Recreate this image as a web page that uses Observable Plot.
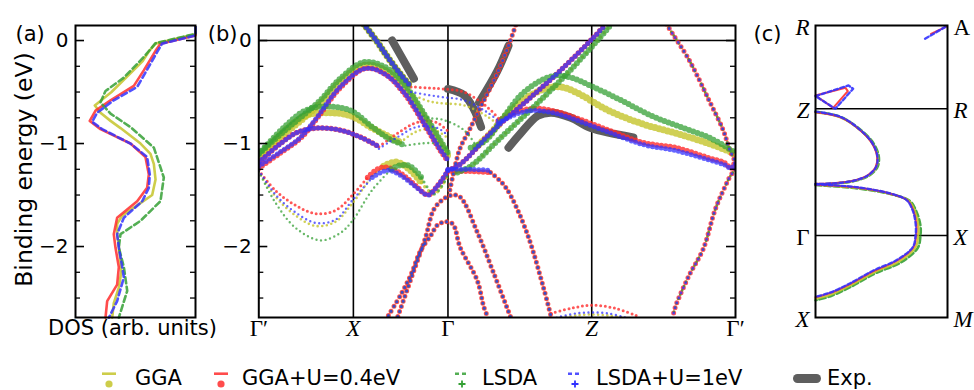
<!DOCTYPE html>
<html><head><meta charset="utf-8">
<script src="https://cdn.jsdelivr.net/npm/d3@7"></script>
<script src="https://cdn.jsdelivr.net/npm/@observablehq/plot@0.6"></script>
<style>
body{margin:0;background:#fff;}
#root{position:relative;width:974px;height:390px;font-family:"DejaVu Sans",sans-serif;background:#fff;overflow:hidden;}
.lt{position:absolute;top:366px;height:24px;line-height:24px;font-size:21px;color:#000;white-space:nowrap;}
.sw{position:absolute;top:366px;}
</style></head><body><div id="root"></div>
<script>
// ---------------- data ----------------
const models = ["GGA", "GGA+U=0.4eV", "LSDA", "LSDA+U=1eV"];
const modelColors = ["#c4c42a", "#ff2d2d", "#35a035", "#3232ff"];
const expLabel = "Exp.";

// (a) DOS
const dosE_gga  = [0.13,0.06,-0.03,-0.10,-0.20,-0.35,-0.50,-0.63,-0.70,-0.78,-0.85,-1.0,-1.10,-1.20,-1.35,-1.50,-1.60,-1.70,-1.78,-1.88,-2.0,-2.15,-2.25,-2.40,-2.55,-2.69];
const dos_gga   = [1.0,1.0,0.667,0.615,0.56,0.43,0.30,0.161,0.208,0.292,0.375,0.542,0.625,0.653,0.667,0.639,0.514,0.389,0.347,0.347,0.361,0.375,0.381,0.361,0.319,0.306];
const dosE_ggau = [0.13,0.05,-0.03,-0.10,-0.29,-0.44,-0.58,-0.68,-0.78,-0.86,-1.0,-1.13,-1.30,-1.43,-1.56,-1.72,-1.88,-2.01,-2.20,-2.37,-2.53,-2.69];
const dos_ggau  = [1.0,1.0,0.708,0.667,0.569,0.486,0.292,0.167,0.119,0.208,0.458,0.583,0.611,0.597,0.514,0.347,0.319,0.333,0.361,0.347,0.264,0.25];
const dosE_lsda = [0.13,0.065,-0.026,-0.16,-0.36,-0.49,-0.60,-0.71,-0.84,-1.04,-1.33,-1.56,-1.75,-1.88,-2.01,-2.20,-2.43,-2.69];
const dos_lsda  = [1.0,1.0,0.667,0.569,0.403,0.25,0.208,0.292,0.458,0.653,0.736,0.708,0.542,0.375,0.361,0.403,0.431,0.361];
const dosE_lsdau= [0.13,0.05,-0.03,-0.11,-0.31,-0.45,-0.58,-0.70,-0.79,-0.86,-1.0,-1.13,-1.30,-1.43,-1.56,-1.72,-1.88,-2.01,-2.20,-2.30,-2.53,-2.69];
const dos_lsdau = [1.0,1.0,0.722,0.681,0.583,0.514,0.319,0.181,0.139,0.222,0.458,0.597,0.619,0.611,0.556,0.403,0.347,0.361,0.389,0.403,0.347,0.278];

const yTicksMajor = [-2, -1, 0];
const yTickLabels = ["\u22122", "\u22121", "0"];
const yTicksMinor = [-2.5, -2.25, -1.75, -1.5, -1.25, -0.75, -0.5, -0.25];

// (b) band structure, k path positions
const kTicks = [0, 1, 2, 3.52, 5.04];
const kLabels = ["\u0393\u2032", "X", "\u0393", "Z", "\u0393\u2032"];

// bands shared by all four calculations (w = projected weight class per model)
const bandS1 = {k:[1.11,1.25,1.37,1.50,1.61], e:[0.16,-0.01,-0.17,-0.33,-0.45], w:[3,3,3,3]};
const bandD  = {k:[1.37,1.50,1.61,1.71,1.82,1.89,1.97,2.05,2.13,2.31,2.38,2.42], e:[-2.67,-2.47,-2.27,-2.04,-1.89,-1.79,-1.76,-1.78,-2.01,-2.33,-2.59,-2.68], w:[2,2,2,2]};
const bandK  = {k:[1.47,1.61,1.76,1.85,1.95,2.05,2.13,2.31,2.48,2.66], e:[-2.68,-2.31,-1.92,-1.64,-1.54,-1.50,-1.52,-1.86,-2.25,-2.68], w:[2,2,2,2]};
const bandE  = {k:[2.02,2.08,2.13,2.22,2.31,2.42,2.52,2.61,2.66,2.72], e:[-1.45,-1.20,-1.04,-0.88,-0.71,-0.51,-0.32,-0.12,0.0,0.16], w:[2,2,2,2]};
const bandC3 = {k:[2.45,2.57,2.66,2.84,3.01,3.09], e:[-1.28,-1.38,-1.50,-1.88,-2.40,-2.68], w:[2,2,2,2]};
const bandH  = {k:[4.31,4.33,4.55,4.76,4.91,4.97,5.04,4.97,4.83,4.70,4.55,4.41,4.38], e:[0.16,0.13,-0.19,-0.58,-0.87,-1.04,-1.22,-1.34,-1.63,-2.02,-2.28,-2.57,-2.67], w:[1,2,1,2]};

const bandsGGA = [
  {w:3, k:[0,0.28,0.49,0.65,0.86,1.11,1.34,1.55,1.76,1.92,2.0], e:[-1.13,-0.90,-0.74,-0.61,-0.40,-0.24,-0.29,-0.47,-0.76,-1.0,-1.12]},
  {w:3, k:[0,0.28,0.49,0.71,0.97,1.20,1.37,1.50], e:[-1.13,-0.87,-0.73,-0.70,-0.73,-0.85,-0.93,-0.99]},
  {w:1, k:[1.50,1.63,1.76,1.89,2.0], e:[-0.99,-0.90,-0.86,-0.88,-0.95]},
  {w:1, k:[1.61,1.80,1.95,2.17,2.42,2.56], e:[-0.52,-0.59,-0.61,-0.63,-0.74,-0.84]},
  {w:1, k:[0,0.18,0.39,0.60,0.81,0.99,1.20,1.32], e:[-1.27,-1.52,-1.70,-1.80,-1.76,-1.58,-1.32,-1.22]},
  {w:3, k:[1.32,1.45,1.58,1.72], e:[-1.22,-1.18,-1.24,-1.38]},
  {w:2, k:[1.72,1.85,1.93,2.0], e:[-1.38,-1.49,-1.42,-1.30]},
  {w:2, k:[2.08,2.24,2.55,2.90,3.25,3.58,3.72], e:[-1.28,-1.22,-0.95,-0.65,-0.33,0.0,0.15]},
  {w:3, k:[2.29,2.45,2.64,2.84,3.05,3.19,3.35,3.70,4.06,4.41,4.76,5.04], e:[-1.04,-0.90,-0.70,-0.55,-0.46,-0.45,-0.50,-0.68,-0.81,-0.90,-1.0,-1.10]},
  {w:1, k:[3.20,3.35,3.52,3.70,3.85], e:[-2.69,-2.67,-2.66,-2.67,-2.69]}
];
const bandsGGAU = [
  {w:3, k:[0,0.23,0.44,0.62,0.86,1.13,1.34,1.55,1.76,1.92,2.0], e:[-1.24,-1.09,-0.95,-0.75,-0.46,-0.27,-0.33,-0.53,-0.83,-1.07,-1.17]},
  {w:3, k:[0,0.23,0.41,0.62,0.86,1.08,1.27], e:[-1.19,-1.0,-0.89,-0.85,-0.87,-0.94,-1.03]},
  {w:1, k:[1.27,1.39,1.50,1.63,1.76,1.89,2.0], e:[-1.03,-0.95,-0.88,-0.81,-0.78,-0.80,-0.88]},
  {w:1, k:[1.61,1.80,1.95,2.17,2.42,2.56], e:[-0.45,-0.46,-0.47,-0.50,-0.65,-0.78]},
  {w:1, k:[0,0.18,0.39,0.60,0.81,0.99,1.15], e:[-1.26,-1.46,-1.60,-1.68,-1.65,-1.50,-1.33]},
  {w:3, k:[1.15,1.25,1.34,1.50,1.66,1.79,1.89,2.0], e:[-1.33,-1.25,-1.23,-1.29,-1.41,-1.50,-1.41,-1.27]},
  {w:3, k:[2.0,2.24,2.45], e:[-1.27,-1.27,-1.28]},
  {w:3, k:[2.0,2.13,2.48,2.84,3.19,3.54,3.66], e:[-1.26,-1.20,-0.87,-0.58,-0.29,0.03,0.15]},
  {w:3, k:[2.53,2.77,2.95,3.19,3.35,3.70,4.06,4.41,4.76,4.93,4.99,5.04], e:[-0.78,-0.68,-0.66,-0.70,-0.75,-0.87,-0.99,-1.04,-1.14,-1.19,-1.24,-1.17]},
  {w:1, k:[3.09,3.30,3.52,3.77,3.99], e:[-2.65,-2.60,-2.57,-2.60,-2.67]}
];
const bandsLSDA = [
  {w:3, k:[0,0.28,0.49,0.65,0.86,1.11,1.34,1.55,1.76,1.92,2.0], e:[-1.10,-0.87,-0.71,-0.58,-0.37,-0.21,-0.26,-0.44,-0.73,-0.97,-1.09]},
  {w:3, k:[0,0.28,0.49,0.71,0.97,1.20,1.37,1.55], e:[-1.10,-0.83,-0.68,-0.64,-0.68,-0.84,-0.95,-1.02]},
  {w:1, k:[1.55,1.71,1.87,2.0], e:[-1.02,-1.0,-1.0,-1.06]},
  {w:1, k:[1.61,1.76,1.95,2.17,2.31], e:[-0.60,-0.74,-0.77,-0.87,-1.04]},
  {w:1, k:[0,0.18,0.39,0.65,0.86,0.99,1.20,1.40], e:[-1.27,-1.58,-1.82,-1.94,-1.87,-1.75,-1.45,-1.25]},
  {w:3, k:[1.40,1.50,1.60,1.72], e:[-1.25,-1.21,-1.22,-1.33]},
  {w:2, k:[1.72,1.85,1.93,2.0], e:[-1.33,-1.49,-1.42,-1.30]},
  {w:3, k:[2.10,2.24,2.55,2.90,3.25,3.58,3.72], e:[-1.28,-1.22,-0.95,-0.65,-0.33,0.0,0.15]},
  {w:3, k:[2.24,2.40,2.56,2.77,2.98,3.14,3.30,3.51,3.83,4.15,4.46,4.78,5.04], e:[-1.04,-0.97,-0.78,-0.53,-0.39,-0.34,-0.36,-0.44,-0.58,-0.73,-0.84,-0.95,-1.09]}
];
const bandsLSDAU = [
  {w:3, k:[0,0.23,0.44,0.62,0.86,1.13,1.34,1.55,1.76,1.92,2.0], e:[-1.22,-1.08,-0.94,-0.74,-0.45,-0.27,-0.33,-0.52,-0.82,-1.06,-1.16]},
  {w:3, k:[0,0.23,0.41,0.62,0.86,1.08,1.27], e:[-1.18,-1.0,-0.89,-0.85,-0.87,-0.94,-1.03]},
  {w:1, k:[1.27,1.39,1.50,1.63,1.76,1.89,2.0], e:[-1.05,-0.98,-0.92,-0.85,-0.83,-0.85,-0.92]},
  {w:1, k:[1.61,1.80,1.95,2.17,2.42,2.56], e:[-0.50,-0.53,-0.55,-0.58,-0.70,-0.80]},
  {w:1, k:[0,0.18,0.39,0.60,0.81,0.99,1.20], e:[-1.26,-1.50,-1.67,-1.77,-1.74,-1.55,-1.33]},
  {w:3, k:[1.20,1.36,1.50,1.66,1.79,1.89,2.0], e:[-1.33,-1.26,-1.31,-1.42,-1.50,-1.41,-1.26]},
  {w:3, k:[2.0,2.24,2.45], e:[-1.25,-1.25,-1.26]},
  {w:3, k:[2.0,2.13,2.48,2.84,3.19,3.54,3.66], e:[-1.26,-1.20,-0.87,-0.58,-0.29,0.03,0.15]},
  {w:3, k:[2.53,2.77,2.95,3.19,3.35,3.70,4.06,4.41,4.76,4.93,4.99,5.04], e:[-0.80,-0.70,-0.68,-0.72,-0.77,-0.89,-1.01,-1.07,-1.16,-1.21,-1.24,-1.19]},
  {w:1, k:[3.15,3.35,3.52,3.70,3.88], e:[-2.69,-2.65,-2.64,-2.65,-2.69]}
];

// experiment (ARPES) traces
const exp1 = {k:[1.41,1.64], e:[0.0,-0.37]};
const exp2 = {k:[2.0,2.17,2.27,2.35], e:[-0.47,-0.53,-0.66,-0.84]};
const exp3 = {k:[2.33,2.52,2.64], e:[-0.60,-0.30,-0.05]};
const exp4 = {k:[2.64,2.76,2.95,3.09,3.30,3.51,3.96], e:[-1.04,-0.91,-0.73,-0.70,-0.75,-0.85,-0.94]};

// (c) Fermi surface cut, [kx, ky]; ky: Gamma-X line = 0, Z-R line = 1.545
const fsLines = [0, 1.545];
const fsLeftLabels = ["R", "Z", "\u0393", "X"];
const fsRightLabels = ["A", "R", "X", "M"];
const fsLabelY = [2.561, 1.545, 0, -1];
const fsGGA = [
  [[0,1.5],[0.189,1.44],[0.343,1.278],[0.434,1.116],[0.472,0.955],[0.46,0.83],[0.396,0.728],[0.29,0.666],[0.139,0.634],[0,0.626]],
  [[0,0.62],[0.136,0.605],[0.316,0.58],[0.574,0.505],[0.705,0.425],[0.753,0.295],[0.78,0.12],[0.778,0.0],[0.758,-0.147],[0.632,-0.318],[0.447,-0.447],[0.27,-0.603],[0.114,-0.723],[0,-0.77]]
];
const fsGGAU = [
  [[0,1.504],[0.189,1.443],[0.341,1.28],[0.43,1.118],[0.467,0.955],[0.455,0.833],[0.392,0.732],[0.29,0.671],[0.139,0.638],[0,0.63]],
  [[0,0.62],[0.136,0.61],[0.316,0.585],[0.568,0.51],[0.695,0.43],[0.742,0.30],[0.765,0.12],[0.762,0.0],[0.742,-0.143],[0.619,-0.305],[0.439,-0.435],[0.265,-0.589],[0.114,-0.70],[0,-0.752]]
];
const fsGGAUpocket = [[0,1.707],[0.227,1.801],[0.245,1.76],[0.134,1.557],[0,1.707]];
const fsGGAUcorner = [[0.875,2.46],[0.995,2.55]];
const fsLSDA = [
  [[0,1.51],[0.189,1.447],[0.348,1.28],[0.442,1.118],[0.48,0.955],[0.468,0.83],[0.4,0.725],[0.29,0.664],[0.139,0.632],[0,0.624]],
  [[0,0.615],[0.136,0.60],[0.316,0.575],[0.58,0.50],[0.715,0.42],[0.765,0.29],[0.795,0.12],[0.795,0.0],[0.775,-0.15],[0.645,-0.33],[0.455,-0.46],[0.275,-0.62],[0.114,-0.74],[0,-0.79]]
];
const fsLSDAU = [
  [[0,1.51],[0.189,1.447],[0.343,1.282],[0.434,1.118],[0.47,0.955],[0.458,0.833],[0.394,0.73],[0.29,0.668],[0.139,0.636],[0,0.628]],
  [[0,0.625],[0.136,0.612],[0.316,0.588],[0.565,0.513],[0.69,0.432],[0.738,0.30],[0.76,0.12],[0.758,0.0],[0.738,-0.14],[0.615,-0.30],[0.435,-0.43],[0.26,-0.585],[0.11,-0.697],[0,-0.748]]
];
const fsLSDAUpocket = [[0,1.70],[0.25,1.83],[0.285,1.79],[0.15,1.545],[0,1.70]];
const fsLSDAUcorner = [[0.83,2.40],[0.99,2.55]];

// ---------------- drawing ----------------
const root = document.getElementById("root");
const E_DOMAIN = [-2.689, 0.146];
const H = 345, MT = 25, MB = 28;
const SERIF = "'Liberation Serif', 'DejaVu Serif', serif";
const pts = (b) => b.k.map((k, i) => ({k, e: b.e[i]}));
const place = (svg, left) => { svg.style.position = "absolute"; svg.style.left = left + "px"; svg.style.top = "0px"; root.appendChild(svg); };
const baseStyle = {background: "transparent", fontFamily: "'DejaVu Sans', sans-serif", fontSize: "19px", overflow: "visible", color: "#000"};

function yTickMarks(fw) {
  return [
    Plot.tickY(yTicksMajor, {insetRight: fw - 9, strokeWidth: 1.6}),
    Plot.tickY(yTicksMajor, {insetLeft: fw - 9, strokeWidth: 1.6}),
    Plot.tickY(yTicksMinor, {insetRight: fw - 5, strokeWidth: 1.3}),
    Plot.tickY(yTicksMinor, {insetLeft: fw - 5, strokeWidth: 1.3}),
    Plot.text(yTicksMajor, {y: d => d, text: (d, i) => yTickLabels[i], frameAnchor: "left", textAnchor: "end", dx: -7, fontSize: 20})
  ];
}

// ---- panel (a)
{
  const W = 200, ML = 75, MR = 5, fw = W - ML - MR;
  const series = [
    {d: dos_gga, e: dosE_gga, c: modelColors[0], dash: null},
    {d: dos_ggau, e: dosE_ggau, c: modelColors[1], dash: null},
    {d: dos_lsda, e: dosE_lsda, c: modelColors[2], dash: "6,3.5"},
    {d: dos_lsdau, e: dosE_lsdau, c: modelColors[3], dash: "6,3.5"}
  ];
  const marks = series.map(s => Plot.line(s.d.map((v, i) => ({v, e: s.e[i]})), {
    x: "v", y: "e", stroke: s.c, strokeWidth: 2.6, strokeOpacity: 0.85, strokeDasharray: s.dash, curve: "linear"
  }));
  const svg = Plot.plot({
    width: W, height: H, marginLeft: ML, marginRight: MR, marginTop: MT, marginBottom: MB,
    x: {domain: [0, 1.0], axis: null}, y: {domain: E_DOMAIN, axis: null},
    style: baseStyle,
    marks: [
      ...marks,
      Plot.frame({strokeWidth: 2}),
      ...yTickMarks(fw),
      Plot.text(["Binding energy (eV)"], {frameAnchor: "left", textAnchor: "middle", lineAnchor: "middle", rotate: -90, dx: -51, dy: -2, fontSize: 23.5, text: d => d}),
      Plot.text(["DOS (arb. units)"], {frameAnchor: "bottom", dx: -3, dy: 17, fontSize: 21, text: d => d}),
      Plot.text(["(a)"], {frameAnchor: "top-left", textAnchor: "start", dx: -60, dy: 1, fontSize: 21, text: d => d})
    ]
  });
  place(svg, 0);
}

// ---- panel (b)
{
  const W = 560, ML = 58.3, MR = 25, fw = W - ML - MR;
  const bandSets = [bandsGGA, bandsGGAU, bandsLSDA, bandsLSDAU];
  const shared = [bandS1, bandD, bandK, bandE, bandC3, bandH];
  const dotSize = [[2.6, 3.6, 7], [3.0, 5.0, 5.5], [2.4, 3.0, 6], [2.4, 3.0, 5]];
  const dotGap = [4.6, 5.4, 4.4];
  const opac = [0.8, 0.8, 0.75, 0.75];
  const bandMarks = [];
  bandSets.forEach((set, mi) => {
    const all = set.concat(shared.map(s => ({k: s.k, e: s.e, w: s.w[mi]})));
    all.forEach(b => {
      bandMarks.push(Plot.line(pts(b), {
        x: "k", y: "e", stroke: modelColors[mi], strokeOpacity: opac[mi],
        strokeWidth: dotSize[mi][b.w - 1], strokeDasharray: `0 ${dotGap[b.w - 1]}`,
        strokeLinecap: "round", curve: "catmull-rom", clip: true
      }));
    });
  });
  const expMarks = [exp1, exp2, exp3, exp4].map(s => Plot.line(pts(s), {
    x: "k", y: "e", stroke: "#5e5e5e", strokeWidth: 8, strokeLinecap: "round", strokeLinejoin: "round", curve: "catmull-rom"
  }));
  const kl = kTicks.map((k, i) => ({k, label: kLabels[i], it: kLabels[i] === "X" || kLabels[i] === "Z"}));
  const svg = Plot.plot({
    width: W, height: H, marginLeft: ML, marginRight: MR, marginTop: MT, marginBottom: MB,
    x: {domain: [0, 5.04], axis: null}, y: {domain: E_DOMAIN, axis: null},
    style: baseStyle,
    marks: [
      Plot.ruleX(kTicks.slice(1, 4), {strokeWidth: 1.6}),
      Plot.ruleY([0], {strokeWidth: 1.6}),
      ...expMarks,
      ...bandMarks,
      Plot.frame({strokeWidth: 2}),
      ...yTickMarks(fw),
      Plot.text(kl.filter(d => !d.it), {x: "k", text: "label", frameAnchor: "bottom", dy: 18, fontSize: 23, fontFamily: SERIF}),
      Plot.text(kl.filter(d => d.it), {x: "k", text: "label", frameAnchor: "bottom", dy: 18, fontSize: 23, fontFamily: SERIF, fontStyle: "italic"}),
      Plot.text(["(b)"], {frameAnchor: "top-left", textAnchor: "start", dx: -51, dy: 1, fontSize: 21, text: d => d})
    ]
  });
  place(svg, 200);
}

// ---- panel (c)
{
  const W = 214, ML = 55, MR = 27;
  const mk = (arr) => arr.map(([x, y]) => ({x, y}));
  const styles = [
    {c: modelColors[2], dash: "6,3", w: 2.6, sets: fsLSDA},
    {c: modelColors[0], dash: null, w: 2.2, sets: fsGGA},
    {c: modelColors[1], dash: null, w: 2.0, sets: fsGGAU.concat([fsGGAUcorner])},
    {c: modelColors[3], dash: "4,2.5", w: 2.4, sets: fsLSDAU.concat([fsLSDAUcorner])}
  ];
  const lines = [];
  styles.forEach(s => s.sets.forEach(a => lines.push(Plot.line(mk(a), {x: "x", y: "y", stroke: s.c, strokeWidth: s.w, strokeDasharray: s.dash, strokeOpacity: 0.9, curve: "catmull-rom"}))));
  lines.push(Plot.line(mk(fsGGAUpocket), {x: "x", y: "y", stroke: modelColors[1], strokeWidth: 2, strokeOpacity: 0.9}));
  lines.push(Plot.line(mk(fsLSDAUpocket), {x: "x", y: "y", stroke: modelColors[3], strokeWidth: 2.4, strokeDasharray: "4,2.5", strokeOpacity: 0.9}));
  const lab = [];
  fsLabelY.forEach((y, i) => {
    lab.push({x: 0, y, t: fsLeftLabels[i], side: "l", it: fsLeftLabels[i] !== "\u0393"});
    lab.push({x: 1, y, t: fsRightLabels[i], side: "r", it: fsRightLabels[i] !== "A"});
  });
  const tm = (side, it) => Plot.text(lab.filter(d => d.side === side && d.it === it), {
    x: "x", y: "y", text: "t", textAnchor: side === "l" ? "end" : "start", dx: side === "l" ? -6 : 6, dy: 2,
    fontSize: 23, fontFamily: SERIF, fontStyle: it ? "italic" : "normal"
  });
  const svg = Plot.plot({
    width: W, height: H, marginLeft: ML, marginRight: MR, marginTop: MT, marginBottom: MB,
    x: {domain: [0, 1], axis: null}, y: {domain: [-1, 2.561], axis: null},
    style: baseStyle,
    marks: [
      Plot.ruleY(fsLines, {strokeWidth: 1.6}),
      ...lines,
      Plot.frame({strokeWidth: 2}),
      tm("l", true), tm("l", false), tm("r", true), tm("r", false),
      Plot.text(["(c)"], {frameAnchor: "top-left", textAnchor: "start", dx: -62, dy: 1, fontSize: 21, text: d => d})
    ]
  });
  place(svg, 760);
}

// ---- legend
{
  const items = [
    {label: models[0], c: modelColors[0], sx: 109, tx: 135, kind: "circle", dash: null},
    {label: models[1], c: modelColors[1], sx: 221, tx: 242, kind: "circle", dash: null},
    {label: models[2], c: modelColors[2], sx: 462, tx: 482, kind: "plus", dash: "4,3"},
    {label: models[3], c: modelColors[3], sx: 575, tx: 596, kind: "plus", dash: "4,3"},
    {label: expLabel, c: "#5e5e5e", sx: 807, tx: 827, kind: "exp"}
  ];
  const ns = "http://www.w3.org/2000/svg";
  items.forEach(it => {
    const s = document.createElementNS(ns, "svg");
    s.setAttribute("class", "sw");
    s.setAttribute("width", 34); s.setAttribute("height", 24);
    s.style.left = (it.sx - 17) + "px";
    let html = "";
    if (it.kind === "exp") {
      html = `<rect x="3" y="8" width="28" height="9" rx="4.5" fill="${it.c}"/>`;
    } else {
      html += `<line x1="10" x2="24" y1="7.7" y2="7.7" stroke="${it.c}" stroke-width="2.6" ${it.dash ? `stroke-dasharray="${it.dash}"` : ""} stroke-opacity="0.85"/>`;
      if (it.kind === "circle") html += `<circle cx="17" cy="18" r="3.6" fill="${it.c}" fill-opacity="0.85"/>`;
      else html += `<path d="M13.5,18H20.5M17,14.5V21.5" stroke="${it.c}" stroke-width="1.8"/>`;
    }
    s.innerHTML = html;
    root.appendChild(s);
    const t = document.createElement("div");
    t.className = "lt"; t.style.left = it.tx + "px"; t.textContent = it.label;
    root.appendChild(t);
  });
}
</script></body></html>
